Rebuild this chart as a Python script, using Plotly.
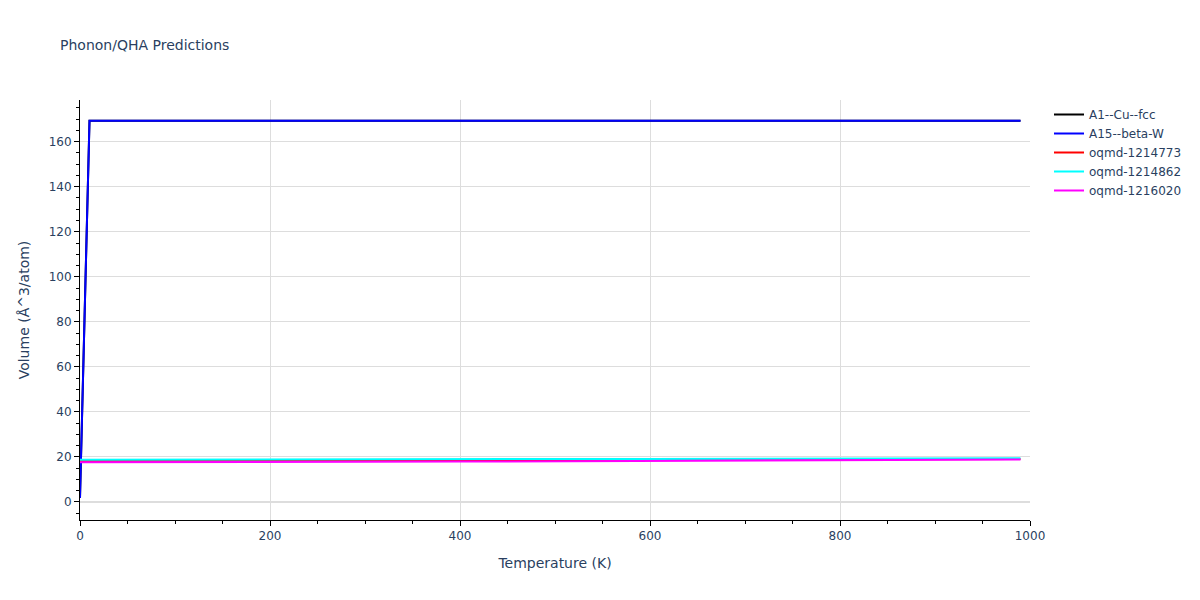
import plotly.graph_objects as go

temperature = [0, 10, 100, 200, 300, 400, 500, 600, 700, 800, 900, 990]

series_names = ["A1--Cu--fcc", "A15--beta-W", "oqmd-1214773", "oqmd-1214862", "oqmd-1216020"]
series_colors = ["black", "blue", "red", "cyan", "magenta"]

a1_cu_fcc = [1.8, 169.3, 169.3, 169.3, 169.3, 169.3, 169.3, 169.3, 169.3, 169.3, 169.3, 169.3]
a15_beta_w = [1.8, 169.3, 169.3, 169.3, 169.3, 169.3, 169.3, 169.3, 169.3, 169.3, 169.3, 169.3]
oqmd_1214773 = [18.2, 18.2, 18.25, 18.33, 18.42, 18.5, 18.6, 18.7, 18.8, 18.9, 19.0, 19.1]
oqmd_1214862 = [18.8, 18.8, 18.84, 18.9, 18.96, 19.02, 19.08, 19.14, 19.2, 19.27, 19.34, 19.4]
oqmd_1216020 = [17.6, 17.6, 17.65, 17.74, 17.84, 17.95, 18.08, 18.22, 18.37, 18.52, 18.68, 18.82]

series_values = [a1_cu_fcc, a15_beta_w, oqmd_1214773, oqmd_1214862, oqmd_1216020]

fig = go.Figure()
for name, color, vals in zip(series_names, series_colors, series_values):
    fig.add_trace(go.Scatter(x=temperature, y=vals, mode="lines", name=name,
                             line=dict(color=color, width=2)))

W, H = 1184, 584
fig.update_layout(
    template="plotly_white",
    width=W, height=H,
    font=dict(family="DejaVu Sans", size=12, color="#2a3f5f"),
    title=dict(text="Phonon/QHA Predictions", x=52 / W, xanchor="left",
               y=1 - 37 / H, yanchor="middle", font=dict(size=14)),
    margin=dict(l=72, r=162, t=92, b=72, autoexpand=False),
    legend=dict(x=1.02, y=1, xanchor="left", yanchor="top"),
)
fig.update_xaxes(title_text="Temperature (K)", title_font=dict(size=14),
                 range=[0, 1000], dtick=200,
                 showline=True, linecolor="black", linewidth=1,
                 ticks="outside", tickcolor="black", ticklen=5,
                 minor=dict(dtick=50, ticks="outside", ticklen=3, tickcolor="black", showgrid=False),
                 gridcolor="#dddddd", zeroline=False)
fig.update_yaxes(title_text="Volume (Å^3/atom)", title_font=dict(size=14),
                 range=[-8, 178.5], dtick=20,
                 showline=True, linecolor="black", linewidth=1,
                 ticks="outside", tickcolor="black", ticklen=5,
                 minor=dict(dtick=5, ticks="outside", ticklen=3, tickcolor="black", showgrid=False),
                 gridcolor="#dddddd", zeroline=True, zerolinecolor="#dddddd", zerolinewidth=2)

fig.write_html("out.html")
